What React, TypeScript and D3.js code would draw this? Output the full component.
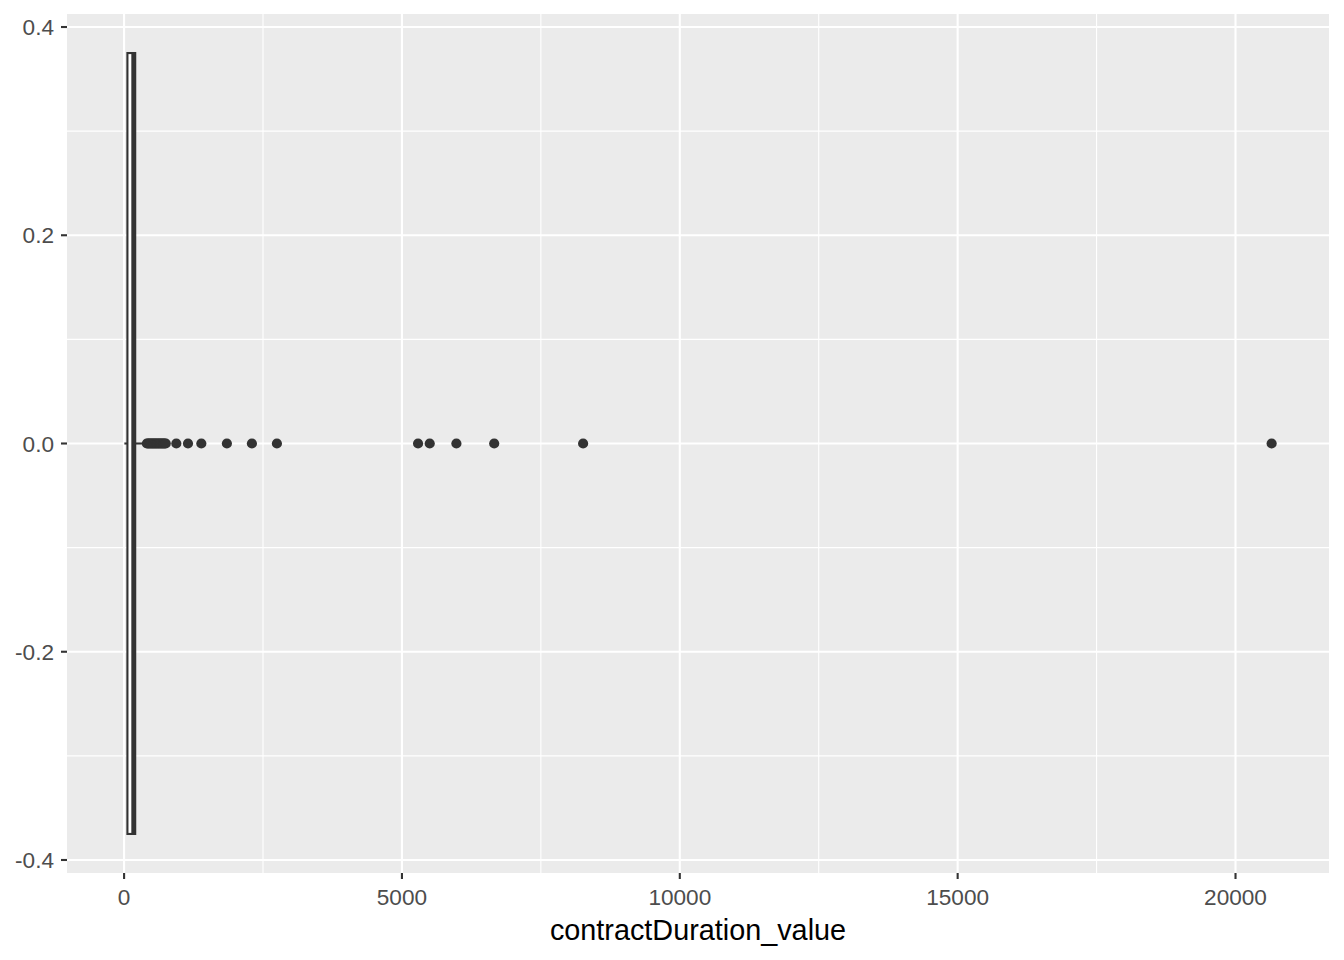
import React from "react";
import * as d3 from "d3";

const W = 1344;
const H = 960;

// boxplot summary for contractDuration_value
const boxStats = { lower: 5, q1: 60, median: 168, q3: 200, upper: 370 };
// outlier values
const outliers = [
  410, 430, 450, 470, 490, 510, 530, 550, 570, 590, 610, 630, 650, 670, 690, 710, 730, 750,
  940, 1150, 1390, 1850, 2300, 2750, 5290, 5500, 5980, 6660, 8260, 20650,
];
const xTicks = [0, 5000, 10000, 15000, 20000];
const xMinor = [2500, 7500, 12500, 17500];
const yTicks = [0.4, 0.2, 0.0, -0.2, -0.4];
const yMinor = [0.3, 0.1, -0.1, -0.3];

export default function App() {
  const left = 67, right = 1329, top = 14, bottom = 873;
  const dMin = boxStats.lower;
  const dMax = d3.max(outliers) as number;
  const pad = (dMax - dMin) * 0.05;
  const x = d3.scaleLinear().domain([dMin - pad, dMax + pad]).range([left, right]);
  const y = d3.scaleLinear().domain([-0.4125, 0.4125]).range([bottom, top]);
  const fmtY = (v: number) => v.toFixed(1).replace("\u2212", "-");
  const dark = "#333333";
  const font = "'Liberation Sans', Arial, sans-serif";
  const y0 = y(0);
  return (
    <svg width={W} height={H} style={{ position: "absolute", left: 0, top: 0, background: "#fff" }}>
      <rect x={left} y={top} width={right - left} height={bottom - top} fill="#EBEBEB" />
      {xMinor.map((v) => (
        <line key={"xm" + v} x1={x(v)} x2={x(v)} y1={top} y2={bottom} stroke="#fff" strokeWidth={1.1} />
      ))}
      {yMinor.map((v) => (
        <line key={"ym" + v} x1={left} x2={right} y1={y(v)} y2={y(v)} stroke="#fff" strokeWidth={1.1} />
      ))}
      {xTicks.map((v) => (
        <line key={"xM" + v} x1={x(v)} x2={x(v)} y1={top} y2={bottom} stroke="#fff" strokeWidth={2.1} />
      ))}
      {yTicks.map((v) => (
        <line key={"yM" + v} x1={left} x2={right} y1={y(v)} y2={y(v)} stroke="#fff" strokeWidth={2.1} />
      ))}
      {/* whiskers */}
      <line x1={x(boxStats.lower)} x2={x(boxStats.q1)} y1={y0} y2={y0} stroke={dark} strokeWidth={2.1} />
      <line x1={x(boxStats.q3)} x2={x(boxStats.upper)} y1={y0} y2={y0} stroke={dark} strokeWidth={2.1} />
      {/* box */}
      <rect
        x={x(boxStats.q1)}
        y={y(0.375)}
        width={x(boxStats.q3) - x(boxStats.q1)}
        height={y(-0.375) - y(0.375)}
        fill="#fff"
        stroke={dark}
        strokeWidth={2.1}
      />
      <line x1={x(boxStats.median)} x2={x(boxStats.median)} y1={y(0.375)} y2={y(-0.375)} stroke={dark} strokeWidth={4.2} />
      {outliers.map((v, i) => (
        <circle key={"o" + i} cx={x(v)} cy={y0} r={5.1} fill={dark} />
      ))}
      {/* axes ticks */}
      {xTicks.map((v) => (
        <g key={"xt" + v}>
          <line x1={x(v)} x2={x(v)} y1={bottom} y2={bottom + 6} stroke={dark} strokeWidth={2.1} />
          <text x={x(v)} y={bottom + 32} textAnchor="middle" fontFamily={font} fontSize={22.6} fill="#4D4D4D">
            {v}
          </text>
        </g>
      ))}
      {yTicks.map((v) => (
        <g key={"yt" + v}>
          <line x1={left - 6} x2={left} y1={y(v)} y2={y(v)} stroke={dark} strokeWidth={2.1} />
          <text x={left - 13} y={y(v)} dy="0.36em" textAnchor="end" fontFamily={font} fontSize={22.6} fill="#4D4D4D">
            {fmtY(v)}
          </text>
        </g>
      ))}
      <text x={(left + right) / 2} y={940} textAnchor="middle" fontFamily={font} fontSize={28.8} fill="#000">
        contractDuration_value
      </text>
    </svg>
  );
}
